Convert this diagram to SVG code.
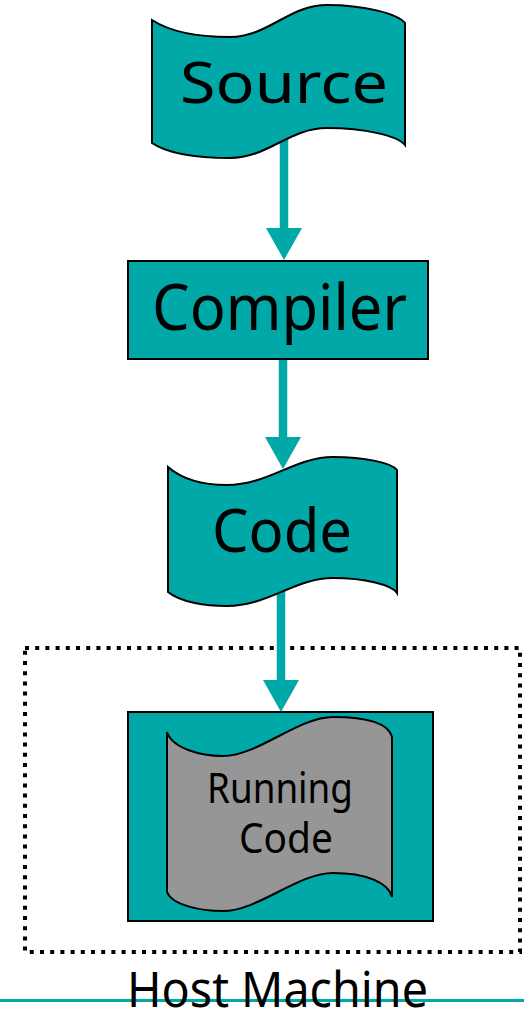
<svg xmlns="http://www.w3.org/2000/svg" width="524" height="1009" viewBox="0 0 524 1009">
  <style>
    .teal { fill: #00A8A8; stroke: #000; stroke-width: 2; }
    .paper { fill: #969696; stroke: #000; stroke-width: 2; }
    .label { font-family: "Comic Sans MS", "Noto Sans", sans-serif; fill: #000; text-anchor: middle; }
    .flow { stroke: #00A8A8; stroke-width: 8.5; fill: none; marker-end: url(#head); }
    .dotted { fill: none; stroke: #000; stroke-width: 4; stroke-dasharray: 4 6.2; }
  </style>
  <defs>
    <marker id="head" markerUnits="userSpaceOnUse" markerWidth="32" markerHeight="36" refX="0" refY="18" orient="auto">
      <path d="M0,0 L32,18 L0,36 Z" fill="#00A8A8"/>
    </marker>
  </defs>

  <rect width="524" height="1009" fill="#fff"/>

  <!-- host machine boundary -->
  <g id="host-machine">
    <rect class="dotted" x="25" y="648" width="495" height="304"/>
  </g>

  <!-- flow arrows -->
  <g id="connectors">
    <line class="flow" x1="284" y1="138" x2="284" y2="228"/>
    <line class="flow" x1="283" y1="358" x2="283" y2="437"/>
    <line class="flow" x1="281" y1="590" x2="281" y2="680"/>
  </g>

  <g id="source">
    <path class="teal" d="M152,20 C172,33 200,37 230,37 C268,37 289,5 327,5 C365,5 398,14 405,23 L405,145 C398,136 365,128 327,128 C289,128 268,158 230,158 C200,158 168,154 152,143 Z"/>
    <text class="label" x="284" y="103" font-size="57" textLength="208" lengthAdjust="spacingAndGlyphs">Source</text>
  </g>

  <g id="compiler">
    <rect class="teal" x="128" y="261" width="300" height="98"/>
    <text class="label" x="279.5" y="330" font-size="63" textLength="255" lengthAdjust="spacingAndGlyphs">Compiler</text>
  </g>

  <g id="code">
    <path class="teal" d="M168,467 C183,480 205,485 227,485 C268,485 295,457 333,457 C365,457 392,463 397,470 L397,593 C392,585 365,578 333,578 C295,578 268,606 227,606 C205,606 180,602 168,592 Z"/>
    <text class="label" x="282" y="552" font-size="61" textLength="140" lengthAdjust="spacingAndGlyphs">Code</text>
  </g>

  <g id="running-code">
    <rect class="teal" x="128" y="712" width="305" height="209"/>
    <path class="paper" d="M167,732 C172,748 200,756 223,756 C258,756 298,717 333,717 C365,717 388,722 392,737 L392,897 C388,882 365,873 333,873 C298,873 258,911 223,911 C200,911 172,905 167,892 Z"/>
    <text class="label" x="280" y="803" font-size="42" textLength="146" lengthAdjust="spacingAndGlyphs">Running</text>
    <text class="label" x="286" y="853" font-size="42" textLength="94" lengthAdjust="spacingAndGlyphs">Code</text>
  </g>

  <!-- baseline rule with the host caption over it -->
  <g id="host-caption">
    <line x1="0" y1="1000.5" x2="524" y2="1000.5" stroke="#00A8A8" stroke-width="3"/>
    <text class="label" x="277.5" y="1007" font-size="49" textLength="301" lengthAdjust="spacingAndGlyphs">Host Machine</text>
  </g>
</svg>
